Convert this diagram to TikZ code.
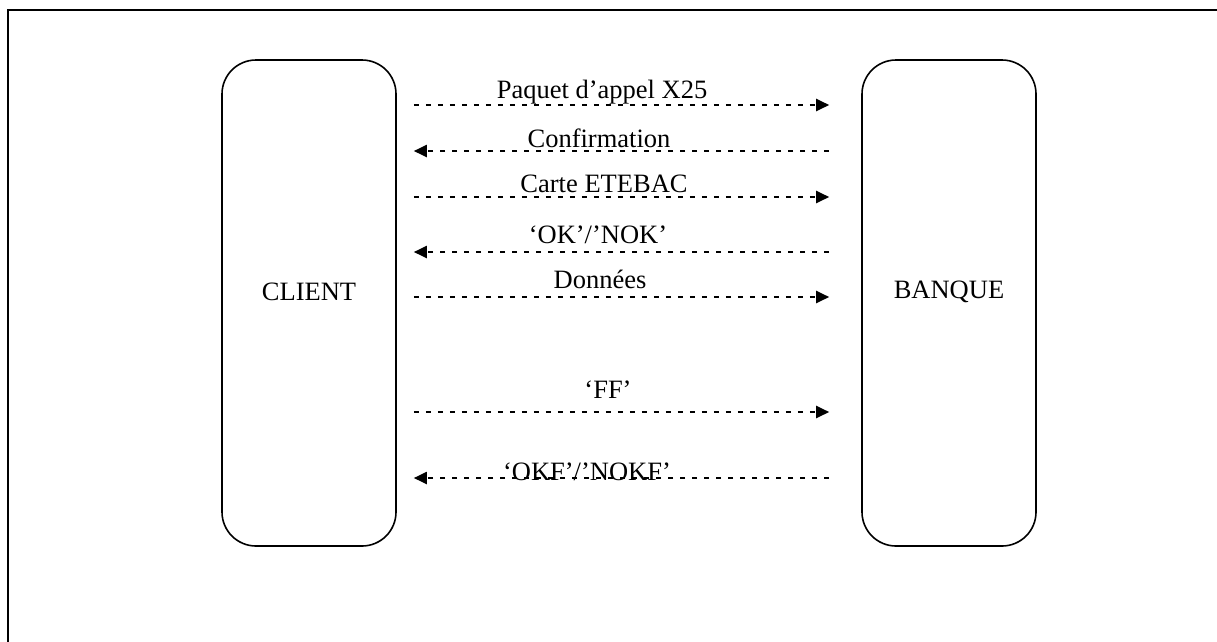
\documentclass[tikz,border=0pt]{standalone}
\usepackage{fontspec}
\setmainfont{Liberation Serif}
\usetikzlibrary{positioning,arrows.meta}

\tikzset{
  party/.style={draw, line width=1.6pt, rectangle, rounded corners=34pt,
    minimum width=174pt, minimum height=486pt},
  partyname/.style={yshift=11.5pt},
  msg/.style={line width=2pt, dash pattern=on 5pt off 7pt,
    -{Triangle[length=13pt,width=12pt]}},
  tobanque/.style={msg, shorten <=17pt, shorten >=32pt},
  toclient/.style={msg, shorten <=32pt, shorten >=17pt},
  lbl/.style={anchor=base, inner sep=0pt}
}

\begin{document}
\begin{tikzpicture}[x=1pt, y=-1pt, font=\fontsize{26.5}{32}\selectfont]
        \useasboundingbox (0,0) rectangle (1217,641);
        % frame, cut by the page on the right and at the bottom
        \draw[line width=2.2pt] (8,700) -- (8,10) -- (1260,10);

        \node[party, label={[partyname]center:CLIENT}] (client) at (309,303) {};

        \node[party, label={[partyname]center:BANQUE}] (banque) at (949,303) {};

        \draw[tobanque] (client.east |- 0,105) -- (banque.west |- 0,105)
        node [midway, lbl, xshift=-27pt, yshift=7pt] {Paquet d’appel X25};

        \draw[toclient] (banque.west |- 0,151) -- (client.east |- 0,151)
        node [midway, lbl, xshift=-30pt, yshift=4pt] {Confirmation};

        \draw[tobanque] (client.east |- 0,197) -- (banque.west |- 0,197)
        node [midway, lbl, xshift=-25pt, yshift=5pt] {Carte ETEBAC};

        \draw[toclient] (banque.west |- 0,252) -- (client.east |- 0,252)
        node [midway, lbl, xshift=-31pt, yshift=9pt] {‘OK’/’NOK’};

        \draw[tobanque] (client.east |- 0,297) -- (banque.west |- 0,297)
        node [midway, lbl, xshift=-29pt, yshift=9pt] {Données};

        \draw[tobanque] (client.east |- 0,412) -- (banque.west |- 0,412)
        node [midway, lbl, xshift=-21pt, yshift=14pt] {‘FF’};

        \draw[toclient] (banque.west |- 0,478) -- (client.east |- 0,478)
        node [midway, lbl, xshift=-42pt, yshift=-2pt] {‘OKF’/’NOKF’};
      \end{tikzpicture}
\end{document}
